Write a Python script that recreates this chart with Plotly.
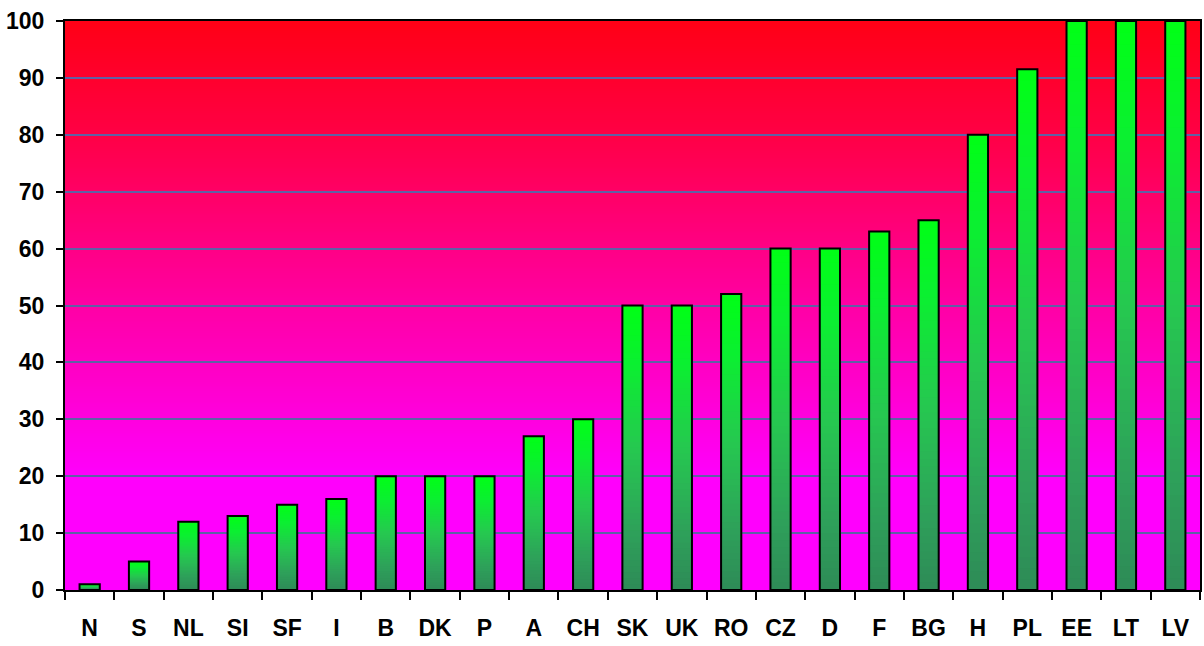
import base64
import struct
import zlib

import plotly.graph_objects as go

# Percentage per country
countries = ["N", "S", "NL", "SI", "SF", "I", "B", "DK", "P", "A", "CH", "SK",
             "UK", "RO", "CZ", "D", "F", "BG", "H", "PL", "EE", "LT", "LV"]
values = [1, 5, 12, 13, 15, 16, 20, 20, 20, 27, 30, 50,
          50, 52, 60, 60, 63, 65, 80, 91.5, 100, 100, 100]
y_ticks = [0, 10, 20, 30, 40, 50, 60, 70, 80, 90, 100]

FONT = "Liberation Sans Narrow, Arial Narrow, Liberation Sans, Arial, sans-serif"


def lerp_stops(stops, f):
    """Interpolate an RGB colour from (position, (r, g, b)) stops."""
    stops = sorted(stops)
    if f <= stops[0][0]:
        return stops[0][1]
    for (p0, c0), (p1, c1) in zip(stops, stops[1:]):
        if f <= p1:
            u = (f - p0) / (p1 - p0)
            return tuple(round(a + (b - a) * u) for a, b in zip(c0, c1))
    return stops[-1][1]


# Plot background: red at the top fading to magenta toward the bottom
bg_stops = [(0.0, (255, 0, 255)), (0.2, (255, 0, 252)), (0.5, (255, 0, 165)),
            (0.8, (255, 0, 70)), (1.0, (255, 0, 22))]


def gradient_png(stops, rows=256):
    raw = b""
    for r in range(rows):
        t = 1 - r / (rows - 1)
        raw += b"\x00" + bytes(lerp_stops(stops, t))

    def chunk(tag, data):
        return (struct.pack(">I", len(data)) + tag + data +
                struct.pack(">I", zlib.crc32(tag + data) & 0xFFFFFFFF))
    png = b"\x89PNG\r\n\x1a\n"
    png += chunk(b"IHDR", struct.pack(">IIBBBBB", 1, rows, 8, 2, 0, 0, 0))
    png += chunk(b"IDAT", zlib.compress(raw, 9))
    png += chunk(b"IEND", b"")
    return "data:image/png;base64," + base64.b64encode(png).decode()


# Bar fill: bright green at the top of each bar, sea green at its base
bar_stops = [(0.0, (46, 139, 87)), (0.2, (46, 160, 90)), (0.5, (38, 200, 80)),
             (0.8, (10, 240, 48)), (1.0, (0, 255, 22))]

fig = go.Figure()

levels = 48
for k in range(levels, 0, -1):
    f = k / levels
    col = lerp_stops(bar_stops, f - 0.5 / levels)
    fig.add_trace(go.Bar(
        x=countries, y=[v * f for v in values],
        marker=dict(color="rgb(%d,%d,%d)" % col, line=dict(width=0)),
        hoverinfo="skip", showlegend=False,
    ))

# Outline of every bar
fig.add_trace(go.Bar(
    x=countries, y=values,
    marker=dict(color="rgba(0,0,0,0)", line=dict(color="black", width=2)),
    showlegend=False, hovertemplate="%{x}: %{y}<extra></extra>",
))

fig.update_layout(
    width=1204, height=646,
    margin=dict(l=65, r=2, t=21, b=56),
    paper_bgcolor="white",
    plot_bgcolor="rgba(0,0,0,0)",
    barmode="overlay",
    bargap=0.59,
    images=[dict(source=gradient_png(bg_stops), xref="x domain", yref="y domain",
                 x=0, y=1, sizex=1, sizey=1, xanchor="left", yanchor="top",
                 sizing="stretch", layer="below")],
)

fig.update_xaxes(
    type="category", categoryorder="array", categoryarray=countries,
    showline=True, linecolor="black", linewidth=2, mirror=True,
    ticks="outside", tickson="boundaries", ticklen=8, tickwidth=2,
    tickcolor="black", showgrid=False, ticklabelstandoff=16,
    tickfont=dict(family=FONT, size=23, color="black", weight="bold"),
)
fig.update_yaxes(
    range=[0, 100], tickvals=y_ticks,
    showline=True, linecolor="black", linewidth=2, mirror=True,
    ticks="outside", ticklen=7, tickwidth=2, tickcolor="black",
    showgrid=True, gridcolor="rgb(96,96,165)", gridwidth=2,
    zeroline=False, ticklabelstandoff=7,
    tickfont=dict(family=FONT, size=23, color="black", weight="bold"),
)

fig.write_html("out.html")
